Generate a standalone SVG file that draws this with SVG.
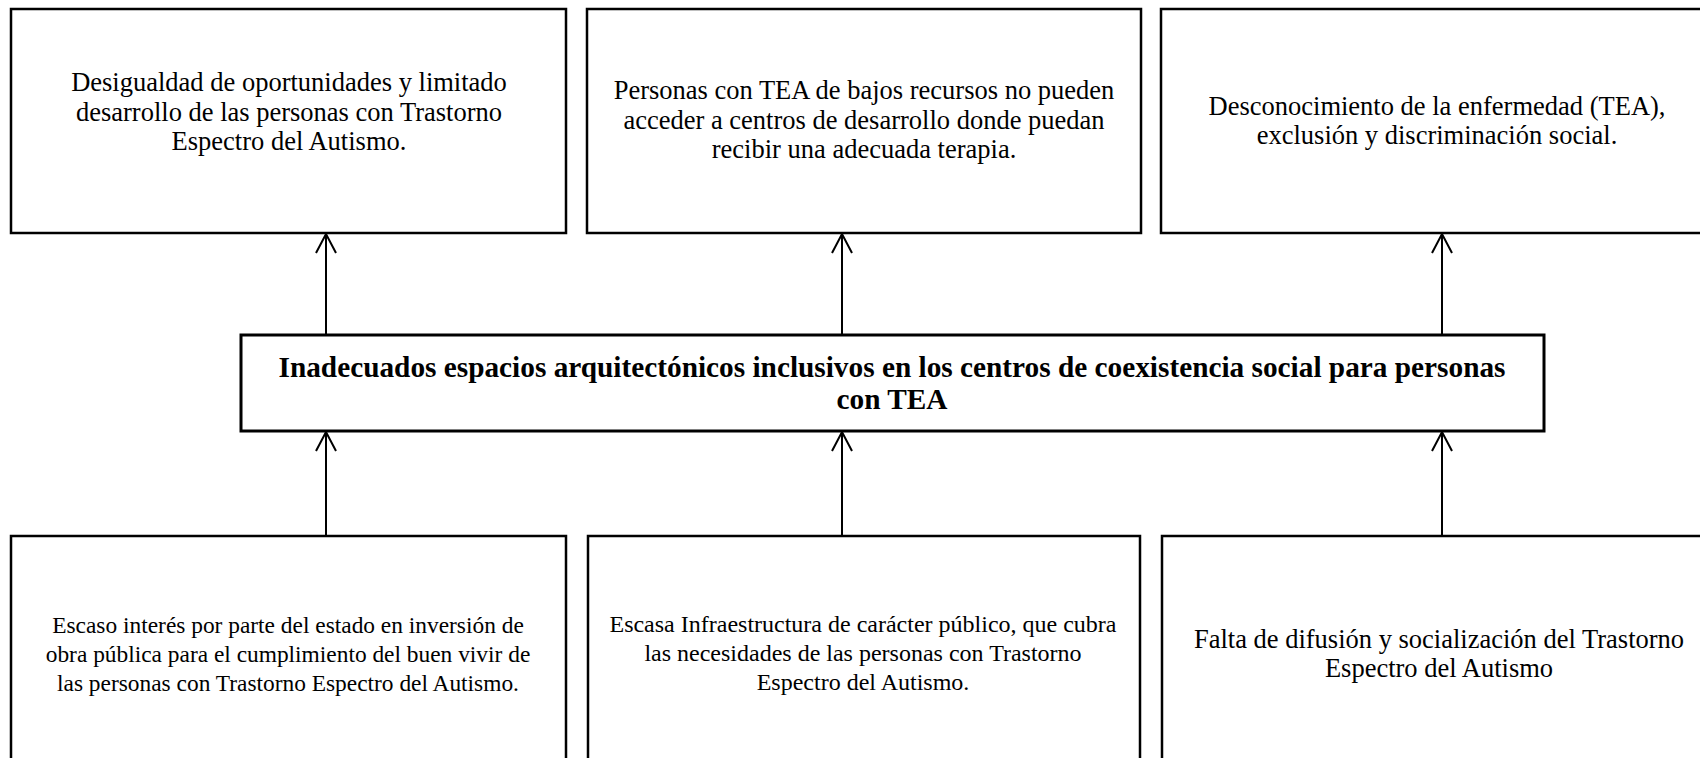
<svg xmlns="http://www.w3.org/2000/svg" width="1700" height="758" viewBox="0 0 1700 758">
<style>
.box{fill:#fff;stroke:#000;stroke-width:2.5}
.main{fill:#fff;stroke:#000;stroke-width:3}
.t{font-family:"Liberation Serif","Times New Roman",serif;font-size:26.5px;fill:#000;text-anchor:middle}
.s{font-size:24px}
.s2{font-size:23.4px}
.b{font-family:"Liberation Serif","Times New Roman",serif;font-size:29.3px;font-weight:bold;fill:#000;text-anchor:middle}
.c{stroke:#000;stroke-width:2;fill:none}
</style>
<defs>
<marker id="ah" markerUnits="userSpaceOnUse" markerWidth="24" markerHeight="24" viewBox="-22 -12 24 24" refX="0" refY="0" orient="auto">
<path d="M -19 -10 L 0 0 L -19 10" fill="none" stroke="#000" stroke-width="2"/>
</marker>
</defs>
<rect width="1700" height="758" fill="#fff"/>
<g id="connectors">
<line class="c" x1="326" y1="335" x2="326" y2="234" marker-end="url(#ah)"/>
<line class="c" x1="842" y1="335" x2="842" y2="234" marker-end="url(#ah)"/>
<line class="c" x1="1442" y1="335" x2="1442" y2="234" marker-end="url(#ah)"/>
<line class="c" x1="326" y1="536" x2="326" y2="432" marker-end="url(#ah)"/>
<line class="c" x1="842" y1="536" x2="842" y2="432" marker-end="url(#ah)"/>
<line class="c" x1="1442" y1="536" x2="1442" y2="432" marker-end="url(#ah)"/>
</g>
<g id="effect1">
<rect class="box" x="11" y="9" width="555" height="224"/>
<text class="t" x="289" y="91">Desigualdad de oportunidades y limitado</text>
<text class="t" x="289" y="121">desarrollo de las personas con Trastorno</text>
<text class="t" x="289" y="150">Espectro del Autismo.</text>
</g>
<g id="effect2">
<rect class="box" x="587" y="9" width="554" height="224"/>
<text class="t" x="864" y="99">Personas con TEA de bajos recursos no pueden</text>
<text class="t" x="864" y="129">acceder a centros de desarrollo donde puedan</text>
<text class="t" x="864" y="158">recibir una adecuada terapia.</text>
</g>
<g id="effect3">
<rect class="box" x="1161" y="9" width="555" height="224"/>
<text class="t" x="1437" y="115">Desconocimiento de la enfermedad (TEA),</text>
<text class="t" x="1437" y="144">exclusión y discriminación social.</text>
</g>
<g id="problem">
<rect class="main" x="241" y="335" width="1303" height="96"/>
<text class="b" x="892" y="377">Inadecuados espacios arquitectónicos inclusivos en los centros de coexistencia social para personas</text>
<text class="b" x="892" y="409">con TEA</text>
</g>
<g id="cause1">
<rect class="box" x="11" y="536" width="555" height="224"/>
<text class="t s2" x="288" y="633">Escaso interés por parte del estado en inversión de</text>
<text class="t s2" x="288" y="662">obra pública para el cumplimiento del buen vivir de</text>
<text class="t s2" x="288" y="691">las personas con Trastorno Espectro del Autismo.</text>
</g>
<g id="cause2">
<rect class="box" x="588" y="536" width="552" height="224"/>
<text class="t s" x="863" y="632">Escasa Infraestructura de carácter público, que cubra</text>
<text class="t s" x="863" y="661">las necesidades de las personas con Trastorno</text>
<text class="t s" x="863" y="690">Espectro del Autismo.</text>
</g>
<g id="cause3">
<rect class="box" x="1162" y="536" width="555" height="224"/>
<text class="t" x="1439" y="648">Falta de difusión y socialización del Trastorno</text>
<text class="t" x="1439" y="677">Espectro del Autismo</text>
</g>
</svg>
